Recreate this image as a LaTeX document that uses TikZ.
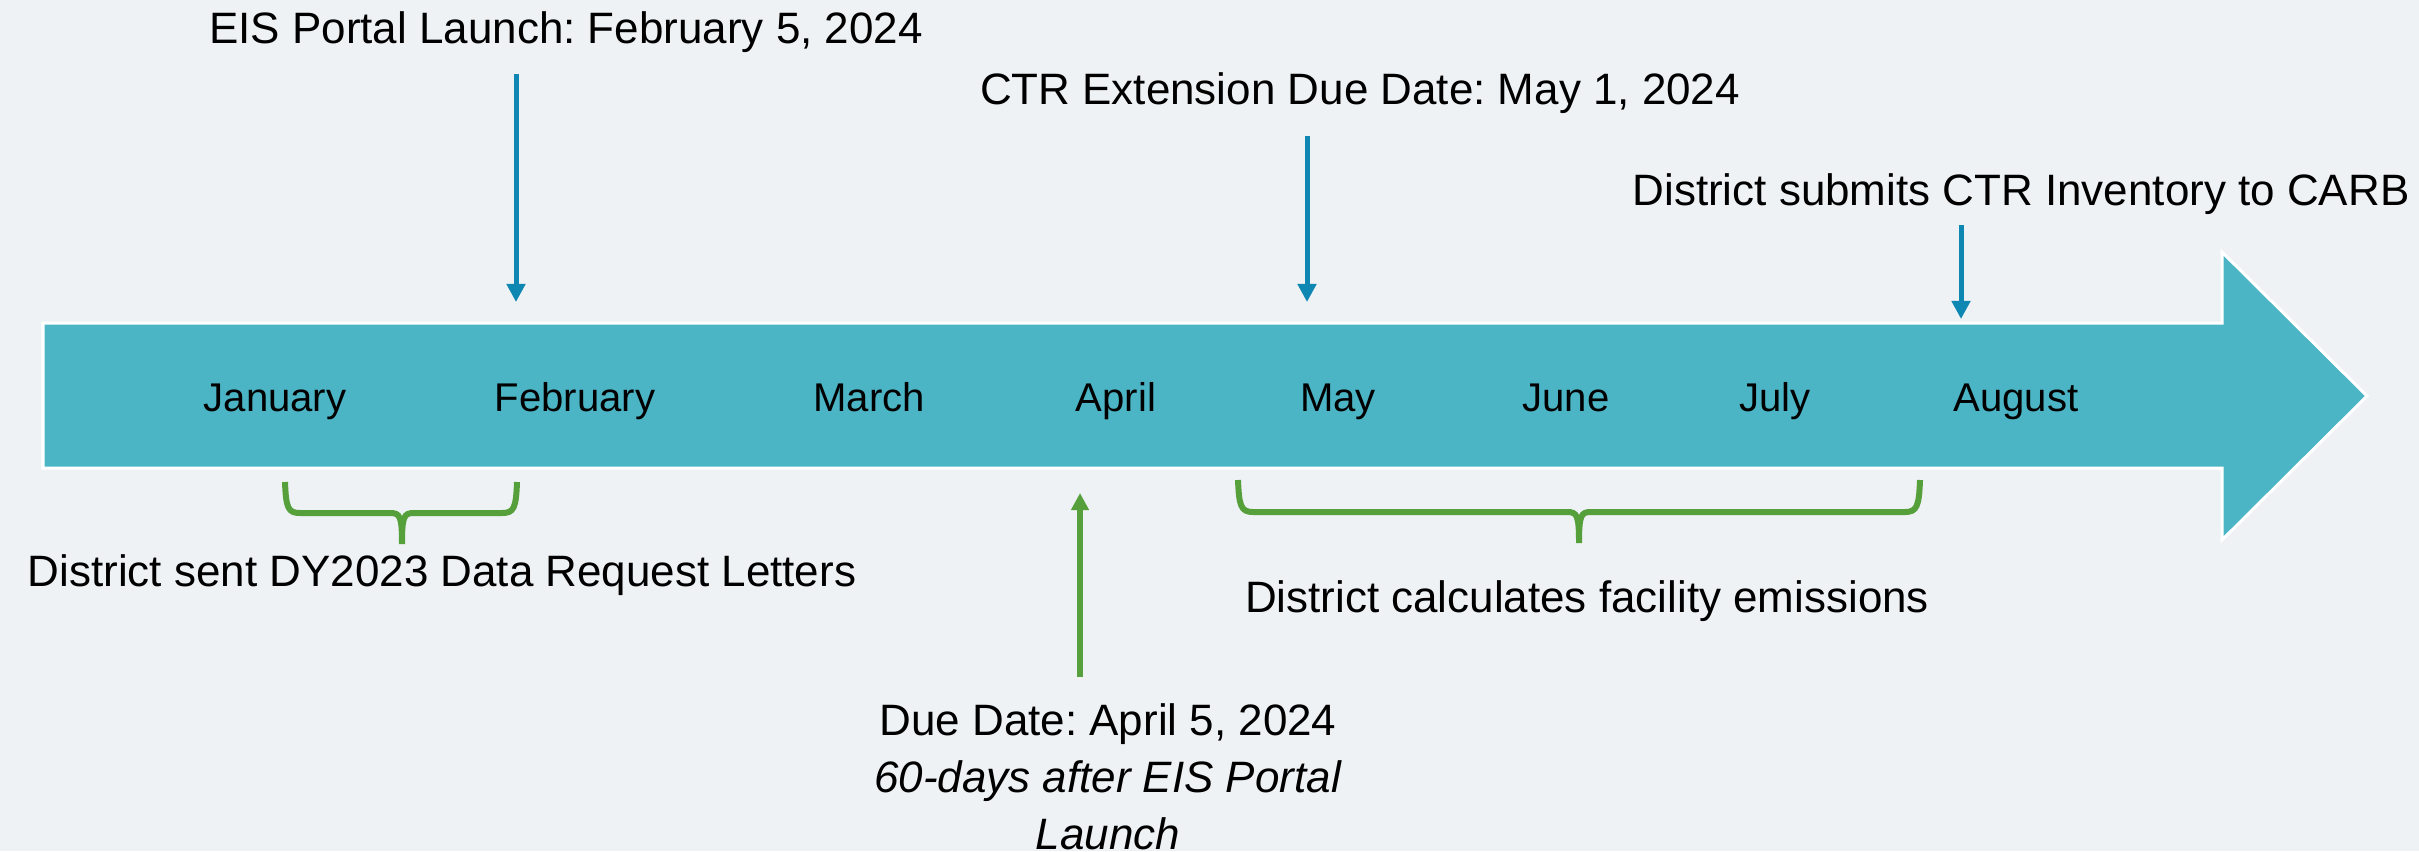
\documentclass[tikz,border=0pt]{standalone}
\usepackage{fontspec}
\setmainfont{Liberation Sans}
\usetikzlibrary{arrows.meta,calc}
\definecolor{bgcol}{HTML}{EEF2F5}
\definecolor{flowcol}{HTML}{4BB5C6}
\definecolor{markblue}{HTML}{0E87B3}
\definecolor{spangreen}{HTML}{56A03C}
\frenchspacing

\tikzset{
  monthlbl/.style={anchor=base, inner sep=0pt, font=\fontsize{11.4}{13}\selectfont},
  eventlbl/.style={anchor=base, inner sep=0pt, font=\fontsize{12.5}{16.2}\selectfont},
  bluearr/.style={markblue, line width=0.05cm, -{Triangle[length=0.18cm,width=0.18cm]}},
  greenarr/.style={spangreen, line width=0.06cm, -{Triangle[length=0.17cm,width=0.17cm]}},
  spanbrace/.style={spangreen, line width=0.06cm}
}

\begin{document}
\begin{tikzpicture}[x=0.01cm, y=-0.01cm]
    \fill[bgcol] (0,0) rectangle (2419,851);
    \useasboundingbox (0,0) rectangle (2419,851);
    % timeline arrow
    \filldraw[fill=flowcol, draw=white, line width=0.03cm] (43,323) -- (2222,323) -- (2222,252) -- (2367,396) -- (2222,540) -- (2222,468) -- (43,468) -- cycle;
    \node[monthlbl] (jan) at (275,411) {January};
    \node[monthlbl] (feb) at (575,411) {February};
    \node[monthlbl] (mar) at (869,411) {March};
    \node[monthlbl] (apr) at (1116,411) {April};
    \node[monthlbl] (may) at (1338,411) {May};
    \node[monthlbl] (jun) at (1566,411) {June};
    \node[monthlbl] (jul) at (1775,411) {July};
    \node[monthlbl] (aug) at (2016,411) {August};
    % points on the timeline
    \coordinate (feb5) at (516,302);
    \coordinate (may1) at (1307,302);
    \coordinate (inv) at (1961,319);
    \coordinate (apr5) at (1080,493);
    % events above
    \node[eventlbl] (portal) at (566,43) {EIS Portal Launch: February 5, 2024};
    \node[eventlbl] (ctrext) at (1360,104) {CTR Extension Due Date: May 1, 2024};
    \node[eventlbl] (submit) at (2021,205) {District submits CTR Inventory to CARB};
    \draw[bluearr, shorten <=0.21cm] (portal.south -| feb5) -- (feb5);
    \draw[bluearr, shorten <=0.22cm] (ctrext.south -| may1) -- (may1);
    \draw[bluearr, shorten <=0.10cm] (submit.south -| inv) -- (inv);
    % events below
    \draw[spanbrace] (285,482) .. controls (286,508) and (288,513) .. (300,513) -- (390,513) .. controls (400,513) and (402,516) .. (402,544)
        (517,482) .. controls (516,508) and (514,513) .. (502,513) -- (414,513) .. controls (404,513) and (402,516) .. (402,544);
    \node[eventlbl] (letters) at (442,586) {District sent DY2023 Data Request Letters};
    \draw[spanbrace] (1238,480) .. controls (1239,506) and (1241,512) .. (1253,512) -- (1567,512) .. controls (1577,512) and (1579,515) .. (1579,543)
        (1920,480) .. controls (1919,506) and (1917,512) .. (1905,512) -- (1591,512) .. controls (1581,512) and (1579,515) .. (1579,543);
    \node[eventlbl] (emis) at (1587,612) {District calculates facility emissions};
    \node[eventlbl, anchor=north, align=center] (due) at (1108,703) {Due Date: April 5, 2024\\ \textit{60-days after EIS Portal}\\ \textit{Launch}};
    \draw[greenarr, shorten <=0.26cm] (due.north -| apr5) -- (apr5);
\end{tikzpicture}
\end{document}
